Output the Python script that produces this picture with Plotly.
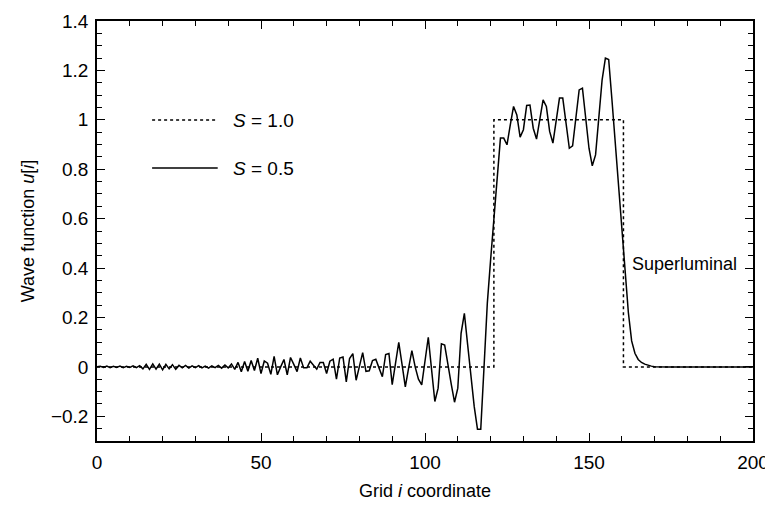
import plotly.graph_objects as go

# ---- data ----
grid_i = list(range(0, 201))

# S = 0.5 wave function values u[i], i = 0..200
u_s05 = [
    0.000, 0.002, -0.002, 0.003, -0.003, 0.002, -0.002, 0.003, -0.003, 0.002,   # 0-9
    -0.002, 0.004, -0.003, 0.005, -0.008, 0.010, -0.010, 0.012, -0.009, 0.011,  # 10-19
    -0.012, 0.010, -0.008, 0.009, -0.010, 0.006, -0.004, 0.006, -0.005, 0.004,  # 20-29
    -0.003, 0.005, -0.004, 0.003, -0.005, 0.004, -0.003, 0.006, -0.005, 0.008,  # 30-39
    -0.004, 0.012, -0.010, 0.018, -0.020, 0.022, -0.018, 0.026, -0.015, 0.035,  # 40-49
    -0.027, 0.024, 0.015, -0.030, 0.043, -0.032, 0.000, 0.030, -0.032, 0.038,   # 50-59
    0.010, -0.019, 0.036, -0.004, -0.004, 0.023, 0.007, -0.009, 0.018, 0.018,   # 60-69
    -0.027, 0.023, 0.031, -0.050, 0.036, 0.040, -0.061, 0.034, 0.054, -0.054,   # 70-79
    0.002, 0.058, -0.018, -0.016, 0.026, 0.031, -0.005, -0.040, 0.050, 0.054,   # 80-89
    -0.072, 0.010, 0.099, 0.010, -0.081, -0.005, 0.066, 0.000, -0.050, -0.073,  # 90-99
    0.020, 0.120, -0.010, -0.140, -0.086, 0.093, 0.088, 0.000, -0.070, -0.143,  # 100-109
    -0.086, 0.136, 0.217, 0.090, -0.040, -0.160, -0.252, -0.252, 0.000, 0.258,  # 110-119
    0.433, 0.600, 0.770, 0.926, 0.926, 0.899, 0.980, 1.054, 1.020, 0.930,       # 120-129
    0.960, 1.058, 1.060, 0.966, 0.922, 1.000, 1.081, 1.054, 0.953, 0.906,       # 130-139
    1.000, 1.088, 1.088, 0.985, 0.885, 0.895, 1.010, 1.121, 1.128, 1.000,       # 140-149
    0.885, 0.814, 0.858, 1.010, 1.162, 1.250, 1.244, 1.080, 0.906, 0.720,       # 150-159
    0.530, 0.370, 0.220, 0.105, 0.055, 0.030, 0.018, 0.011, 0.006, 0.003,       # 160-169
    0.001, 0.000, 0.000, 0.000, 0.000, 0.000, 0.000, 0.000, 0.000, 0.000,       # 170-179
    0.000, 0.000, 0.000, 0.000, 0.000, 0.000, 0.000, 0.000, 0.000, 0.000,       # 180-189
    0.000, 0.000, 0.000, 0.000, 0.000, 0.000, 0.000, 0.000, 0.000, 0.000,       # 190-199
    0.000,                                                                      # 200
]

# S = 1.0: exact square pulse
s10_x = [0, 121, 121, 160.5, 160.5, 200]
s10_u = [0, 0, 1, 1, 0, 0]

x_tickvals = [0, 50, 100, 150, 200]
y_tickvals = [-0.2, 0, 0.2, 0.4, 0.6, 0.8, 1.0, 1.2, 1.4]
y_ticktext = ["\u22120.2", "0", "0.2", "0.4", "0.6", "0.8", "1", "1.2", "1.4"]

legend_labels = ["<i>S</i> = 1.0", "<i>S</i> = 0.5"]

FONT = "Liberation Sans, Arial, Helvetica, sans-serif"

fig = go.Figure()
fig.add_trace(go.Scatter(x=s10_x, y=s10_u, mode="lines",
                         line=dict(color="black", width=1.5, dash="dot"),
                         name=legend_labels[0], showlegend=False))
fig.add_trace(go.Scatter(x=grid_i, y=u_s05, mode="lines",
                         line=dict(color="black", width=1.5),
                         name=legend_labels[1], showlegend=False))

# hand-drawn style legend (long line samples)
leg_rows = [(0.764, "dot"), (0.650, "solid")]
for (yy, dsh), lab in zip(leg_rows, legend_labels):
    fig.add_shape(type="line", xref="paper", yref="paper",
                  x0=0.084, x1=0.184, y0=yy, y1=yy,
                  line=dict(color="black", width=1.5, dash=dsh))
    fig.add_annotation(xref="paper", yref="paper", x=0.204, y=yy,
                       text=lab, showarrow=False, xanchor="left", yanchor="middle",
                       font=dict(family=FONT, size=19, color="black"))

fig.add_annotation(x=162.6, y=0.415, text="Superluminal", showarrow=False,
                   xanchor="left", yanchor="middle",
                   font=dict(family=FONT, size=18, color="black"))

axis_common = dict(showline=True, linecolor="black", linewidth=1.5, mirror="ticks",
                   ticks="inside", ticklen=8, tickwidth=1.3, tickcolor="black",
                   showgrid=False, zeroline=False, automargin=False,
                   ticklabelstandoff=3,
                   tickfont=dict(family=FONT, size=19, color="black"))

fig.update_xaxes(range=[0, 200], tickvals=x_tickvals,
                 minor=dict(dtick=10, ticks="inside", ticklen=5, tickwidth=1.2, tickcolor="black"),
                 title=dict(text="Grid <i>i</i> coordinate", standoff=13,
                            font=dict(family=FONT, size=18, color="black")),
                 **axis_common)
fig.update_yaxes(range=[-0.3, 1.4], tickvals=y_tickvals, ticktext=y_ticktext,
                 minor=dict(dtick=0.05, tick0=0, ticks="inside", ticklen=5, tickwidth=1.2, tickcolor="black"),
                 title=dict(text="Wave function <i>u</i>[<i>i</i>]", standoff=12,
                            font=dict(family=FONT, size=18, color="black")),
                 **axis_common)

# the page adds an 8 px body margin, so the figure is sized to fit the window
fig.update_layout(width=765, height=497,
                  margin=dict(l=89, r=20, t=13, b=64),
                  plot_bgcolor="white", paper_bgcolor="white",
                  font=dict(family=FONT, color="black"))

fig.write_html("out.html")
